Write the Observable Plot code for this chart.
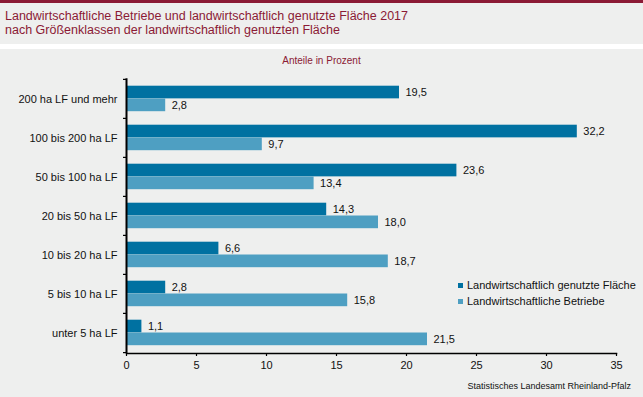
<!DOCTYPE html>
<html><head><meta charset="utf-8">
<script src="https://cdn.jsdelivr.net/npm/d3@7"></script>
<script src="https://cdn.jsdelivr.net/npm/@observablehq/plot@0.6"></script>
<style>
html,body{margin:0;padding:0;}
body{width:643px;height:397px;position:relative;overflow:hidden;background:#fff;font-family:"Liberation Sans",Arial,sans-serif;}
#topbar{position:absolute;left:0;top:0;width:643px;height:3px;background:#8b1a35;}
#header{position:absolute;left:0;top:3px;width:643px;height:41px;background:#eeefee;}
#title{position:absolute;left:5px;top:6px;font-size:12.5px;line-height:14px;color:#8b1a35;}
#chartbg{position:absolute;left:0;top:49px;width:643px;height:348px;background:#eeefee;}
#sub{position:absolute;left:0;top:55px;width:643px;text-align:center;font-size:10px;color:#8b1a35;}
#plot{position:absolute;left:0;top:49px;}
#legend{position:absolute;left:458px;top:277px;font-size:11px;color:#111;}
#legend .row{height:16px;line-height:16px;white-space:nowrap;}
#legend .sw{display:inline-block;width:5px;height:5px;margin-right:4px;vertical-align:middle;position:relative;top:-1px;}
#source{position:absolute;right:12px;top:381px;font-size:9px;color:#111;}
</style></head>
<body>
<div id="topbar"></div>
<div id="header"><div id="title">Landwirtschaftliche Betriebe und landwirtschaftlich genutzte Fläche 2017<br>nach Größenklassen der landwirtschaftlich genutzten Fläche</div></div>
<div id="chartbg"></div>
<div id="sub">Anteile in Prozent</div>
<div id="plot"></div>
<div id="legend"></div>
<div id="source">Statistisches Landesamt Rheinland-Pfalz</div>
<script>
const categories = ["200 ha LF und mehr","100 bis 200 ha LF","50 bis 100 ha LF","20 bis 50 ha LF","10 bis 20 ha LF","5 bis 10 ha LF","unter 5 ha LF"];
const flaeche = [19.5, 32.2, 23.6, 14.3, 6.6, 2.8, 1.1];
const betriebe = [2.8, 9.7, 13.4, 18.0, 18.7, 15.8, 21.5];
const seriesNames = ["Landwirtschaftlich genutzte Fläche","Landwirtschaftliche Betriebe"];
const seriesColors = ["#0071a1","#4e9fc2"];
const xTicks = [0,5,10,15,20,25,30,35];

const dataF = categories.map((c,i)=>({cat:c, v:flaeche[i]}));
const dataB = categories.map((c,i)=>({cat:c, v:betriebe[i]}));
const fmt = v => v.toFixed(1).replace(".", ",");

const H = 348, mT = 29.3, mB = 44;
const step = (H - mT - mB) / categories.length;

const chart = Plot.plot({
  width: 643, height: H,
  marginLeft: 126, marginRight: 27, marginTop: mT, marginBottom: mB,
  style: {background: "transparent", fontFamily: "'Liberation Sans', Arial, sans-serif", fontSize: "11px", color: "#111"},
  x: {domain: [0, 35], ticks: xTicks, label: null},
  y: {domain: categories, padding: 0, label: null},
  marks: [
    Plot.barX(dataF, {x: "v", y: "cat", fill: seriesColors[0], insetTop: 6.7, insetBottom: step - 6.7 - 12.9}),
    Plot.barX(dataB, {x: "v", y: "cat", fill: seriesColors[1], insetTop: 19.5, insetBottom: 6.8}),
    Plot.text(dataF, {x: "v", y: "cat", text: d => fmt(d.v), textAnchor: "start", dx: 6, dy: -6.5, fill: "#111", fontSize: 11}),
    Plot.text(dataB, {x: "v", y: "cat", text: d => fmt(d.v), textAnchor: "start", dx: 6, dy: 6.3, fill: "#111", fontSize: 11}),
    Plot.axisX({ticks: xTicks, tickSize: 3, tickPadding: 5, stroke: "#000", strokeWidth: 1.2, tickFormat: d => String(d), fill: "#111", fontSize: 11}),
    Plot.axisY({tickSize: 0, tickPadding: 9, fill: "#111", fontSize: 11}),
    Plot.axisY({text: null, tickSize: 3, dy: -step/2, stroke: "#000", strokeWidth: 1.2}),
    Plot.axisY({ticks: [categories[categories.length-1]], text: null, tickSize: 3, dy: step/2, stroke: "#000", strokeWidth: 1.2}),
    Plot.frame({anchor: "bottom", stroke: "#000", strokeWidth: 1.5}),
    Plot.ruleX([0], {stroke: "#000", strokeWidth: 2})
  ]
});
document.getElementById("plot").appendChild(chart);

const lg = document.getElementById("legend");
seriesNames.forEach((n,i)=>{
  const row = document.createElement("div");
  row.className = "row";
  row.innerHTML = `<span class="sw" style="background:${seriesColors[i]}"></span>${n}`;
  lg.appendChild(row);
});
</script>
</body></html>
